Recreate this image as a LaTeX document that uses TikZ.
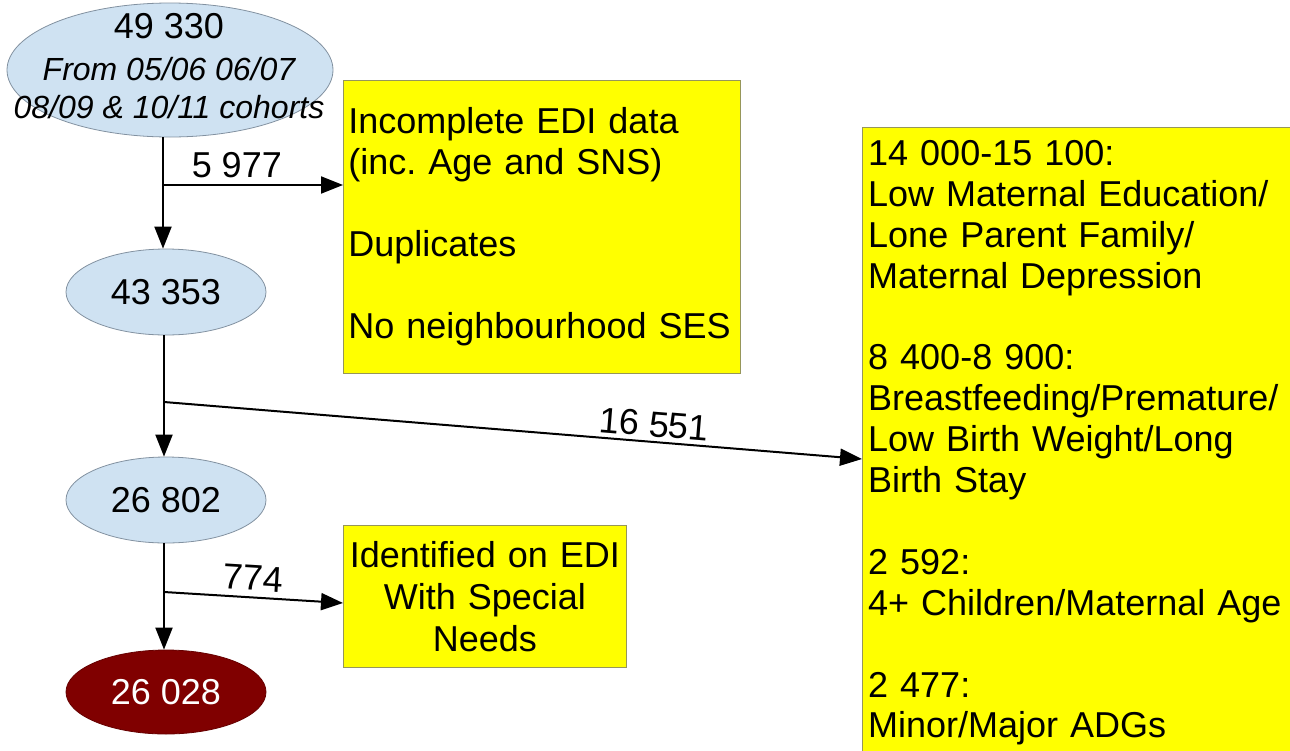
\documentclass[tikz,border=0pt]{standalone}
\usepackage{fontspec}
\setmainfont{Liberation Sans}
\usetikzlibrary{arrows.meta,shapes.geometric}
\definecolor{ellblue}{RGB}{207,226,242}
\definecolor{ellline}{RGB}{130,145,160}
\definecolor{boxyellow}{RGB}{255,255,0}
\definecolor{boxline}{RGB}{150,150,90}
\definecolor{darkred}{RGB}{128,0,0}
\tikzset{
  ell/.style={ellipse, draw=ellline, line width=0.8pt, fill=ellblue, inner sep=0pt},
  ybox/.style={rectangle, draw=boxline, line width=0.8pt, fill=boxyellow, inner sep=0pt},
  txt/.style={font=\fontsize{36}{41}\selectfont, inner sep=0pt},
  arr/.style={draw=black, line width=2pt, -{Triangle[length=22pt,width=17pt]}},
  edgelbl/.style={font=\fontsize{36}{40}\selectfont, inner sep=6pt}
}
\begin{document}
\frenchspacing
\begin{tikzpicture}[x=1pt,y=-1pt]
\useasboundingbox (0,0) rectangle (1290,750);
% nodes
\node[ell, minimum width=326pt, minimum height=134pt] (e1) at (170,70) {};
\node[inner sep=0pt, align=center, font=\fontsize{32}{38}\selectfont] (t1) at (169,66)
  {{\fontsize{36}{40}\selectfont 49 330}\\[4pt]{\itshape From 05/06 06/07}\\{\itshape 08/09 \& 10/11 cohorts}};
\node[ell, minimum width=200pt, minimum height=86pt] (e2) at (166,292) {};
\node[txt] (t2) at (e2.center) {43 353};
\node[ell, minimum width=200pt, minimum height=86pt] (e3) at (166,500) {};
\node[txt] (t3) at (e3.center) {26 802};
\node[ell, draw=darkred!80!black, fill=darkred, minimum width=200pt, minimum height=84pt] (e4) at (166,692) {};
\node[txt, text=white] (t4) at (e4.center) {26 028};

\node[ybox, anchor=north west, minimum width=397pt, minimum height=293pt,
      text width=387pt, inner xsep=5pt, align=left, font=\fontsize{36}{41}\selectfont] (b1) at (343,80)
  {Incomplete EDI data\\(inc. Age and SNS)\\[41pt]Duplicates\\[41pt]No neighbourhood SES};
\node[ybox, anchor=north west, minimum width=283pt, minimum height=142pt,
      text width=283pt, align=center, font=\fontsize{36}{42}\selectfont] (b2) at (343,525)
  {Identified on EDI\\With Special\\Needs};
\node[ybox, anchor=north west, minimum width=440pt, minimum height=640pt, inner sep=0pt] (b3) at (862,127) {};
\node[anchor=north west, inner sep=0pt, text width=424pt, align=left, font=\fontsize{36}{40.9}\selectfont] (t5) at (868,140)
  {14 000-15 100:\\Low Maternal Education/\\Lone Parent Family/\\Maternal Depression\\[40.9pt]8 400-8 900:\\Breastfeeding/Premature/\\Low Birth Weight/Long\\Birth Stay\\[40.9pt]2 592:\\4+ Children/Maternal Age\\[40.9pt]2 477:\\Minor/Major ADGs};

% branch points
\coordinate (p1) at (163,185);
\coordinate (p2) at (164,402);
\coordinate (p3) at (164,592);
\coordinate (q3) at (343,603);
\coordinate (q2) at (862,459);

% connectors
\draw[arr] (p1 |- e1.south) -- (p1 |- e2.north);
\draw[arr] (p1) -- node[edgelbl, above, pos=0.41] {5 977} (p1 -| b1.west);
\draw[arr] (p2 |- e2.south) -- (p2 |- e3.north);
\draw[arr] (p2) -- node[edgelbl, above, sloped, pos=0.70, inner sep=4pt] {16 551} (q2);
\draw[arr] (p3 |- e3.south) -- (p3 |- e4.north);
\draw[arr] (p3) -- node[edgelbl, above, sloped, pos=0.49] {774} (q3);
\end{tikzpicture}
\end{document}
